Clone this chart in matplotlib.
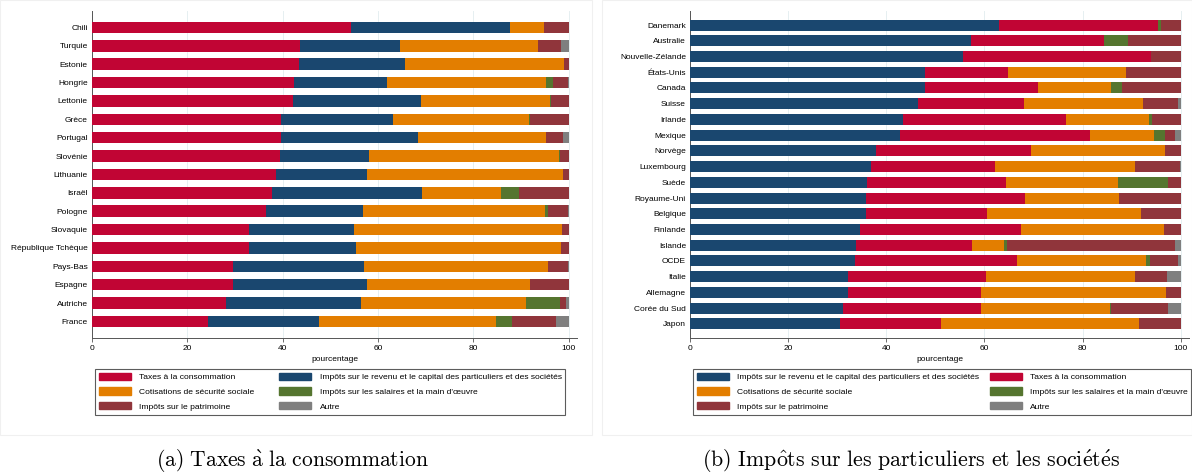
import numpy as np
import matplotlib
matplotlib.use("Agg")
import matplotlib.pyplot as plt
from matplotlib.patches import Patch, Rectangle

plt.rcParams['font.family'] = ['Liberation Sans', 'DejaVu Sans']
plt.rcParams['mathtext.fontset'] = 'cm'

# colours (Stata s2color-like)
c_conso = '#c10534'
c_revenu = '#1a476f'
c_cotis = '#e37e00'
c_salaires = '#55752f'
c_patri = '#90353b'
c_autre = '#7f7f7f'

lbl_conso = "Taxes à la consommation"
lbl_revenu = "Impôts sur le revenu et le capital des particuliers et des sociétés"
lbl_cotis = "Cotisations de sécurité sociale"
lbl_salaires = "Impôts sur les salaires et la main d'œuvre"
lbl_patri = "Impôts sur le patrimoine"
lbl_autre = "Autre"

# --- panel (a): sorted by consumption taxes
pays_a = ["Chili", "Turquie", "Estonie", "Hongrie", "Lettonie", "Grèce", "Portugal",
          "Slovénie", "Lithuanie", "Israël", "Pologne", "Slovaquie", "République Tchèque",
          "Pays-Bas", "Espagne", "Autriche", "France"]
conso_a = [54.4, 43.6, 43.4, 42.4, 42.1, 39.7, 39.7, 39.4, 38.7, 37.7, 36.5, 33.0, 33.0, 29.6, 29.6, 28.2, 24.3]
revenu_a = [33.3, 21.1, 22.3, 19.5, 26.9, 23.4, 28.8, 18.8, 18.9, 31.5, 20.3, 21.9, 22.4, 27.5, 28.1, 28.2, 23.4]
cotis_a = [7.2, 28.9, 33.4, 33.4, 27.1, 28.5, 26.8, 39.8, 41.2, 16.7, 38.2, 43.7, 43.0, 38.6, 34.3, 34.7, 37.0]
salaires_a = [0.0, 0.0, 0.0, 1.4, 0.2, 0.2, 0.0, 0.2, 0.0, 3.7, 0.7, 0.0, 0.0, 0.0, 0.0, 7.0, 3.4]
patri_a = [5.1, 4.9, 0.9, 3.1, 3.7, 8.2, 3.5, 1.8, 1.2, 10.4, 4.1, 1.4, 1.6, 4.1, 8.0, 1.3, 9.2]
autre_a = [0.0, 1.5, 0.0, 0.2, 0.0, 0.0, 1.2, 0.0, 0.0, 0.0, 0.2, 0.0, 0.0, 0.2, 0.0, 0.6, 2.7]

# --- panel (b): sorted by income taxes
pays_b = ["Danemark", "Australie", "Nouvelle-Zélande", "États-Unis", "Canada", "Suisse",
          "Irlande", "Mexique", "Norvège", "Luxembourg", "Suède", "Royaume-Uni", "Belgique",
          "Finlande", "Islande", "OCDE", "Italie", "Allemagne", "Corée du Sud", "Japon"]
revenu_b = [63.0, 57.3, 55.6, 47.9, 47.8, 46.5, 43.5, 42.7, 38.0, 36.8, 36.0, 35.9, 35.8, 34.7, 33.9, 33.7, 32.1, 32.1, 31.1, 30.5]
conso_b = [32.4, 27.0, 38.3, 17.0, 23.1, 21.5, 33.1, 38.9, 31.4, 25.3, 28.3, 32.4, 24.8, 32.8, 23.5, 32.9, 28.2, 27.2, 28.3, 20.6]
cotis_b = [0.0, 0.0, 0.0, 24.0, 14.9, 24.3, 16.9, 12.9, 27.5, 28.5, 22.9, 19.1, 31.3, 29.2, 6.6, 26.3, 30.4, 37.7, 26.1, 40.4]
salaires_b = [0.6, 5.0, 0.0, 0.0, 2.2, 0.0, 0.6, 2.3, 0.0, 0.0, 10.3, 0.0, 0.0, 0.0, 0.6, 0.9, 0.0, 0.0, 0.3, 0.0]
patri_b = [4.0, 10.7, 6.1, 11.1, 12.0, 7.2, 5.9, 2.0, 3.1, 9.2, 2.5, 12.6, 8.1, 3.3, 34.3, 5.7, 6.5, 3.0, 11.7, 8.5]
autre_b = [0.0, 0.0, 0.0, 0.0, 0.0, 0.5, 0.0, 1.2, 0.0, 0.2, 0.0, 0.0, 0.0, 0.0, 1.1, 0.5, 2.8, 0.0, 2.5, 0.0]

fs = 6.0


def stacked(ax, pays, series, height):
    y = np.arange(len(pays))
    left = np.zeros(len(pays))
    for vals, col in series:
        vals = np.array(vals)
        ax.barh(y, vals, left=left, height=height, color=col, edgecolor='none', zorder=3)
        left += vals
    ax.set_yticks(y)
    ax.set_yticklabels(pays, fontsize=fs)
    ax.set_ylim(len(pays) - 1 + 0.9, -0.9)
    ax.set_xlim(0, 101.8)
    ax.set_xticks([0, 20, 40, 60, 80, 100])
    ax.tick_params(axis='x', labelsize=fs, length=3, width=0.6, color='#555555', pad=2)
    ax.tick_params(axis='y', length=0, pad=3)
    ax.grid(axis='x', color='#e6eff1', linewidth=0.7, zorder=0)
    for s in ['top', 'right']:
        ax.spines[s].set_visible(False)
    for s in ['left', 'bottom']:
        ax.spines[s].set_color('#555555')
        ax.spines[s].set_linewidth(0.7)
    ax.set_xlabel("pourcentage", fontsize=fs, labelpad=3)


fig = plt.figure(figsize=(11.92, 4.76), dpi=100)

# faint panel frames
fig.patches.append(Rectangle((0.0, 0.086), 0.497, 0.914, transform=fig.transFigure,
                             fill=False, edgecolor='#f0f0f0', linewidth=0.8))
fig.patches.append(Rectangle((0.505, 0.086), 0.495, 0.914, transform=fig.transFigure,
                             fill=False, edgecolor='#f0f0f0', linewidth=0.8))

ax1 = fig.add_axes([0.0772, 0.29, 0.407, 0.687])
stacked(ax1, pays_a, [(conso_a, c_conso), (revenu_a, c_revenu), (cotis_a, c_cotis),
                      (salaires_a, c_salaires), (patri_a, c_patri), (autre_a, c_autre)], 0.63)

ax2 = fig.add_axes([0.5789, 0.29, 0.419, 0.687])
stacked(ax2, pays_b, [(revenu_b, c_revenu), (conso_b, c_conso), (cotis_b, c_cotis),
                      (salaires_b, c_salaires), (patri_b, c_patri), (autre_b, c_autre)], 0.7)

leg_fs = 6.1
leg_kw = dict(ncol=2, fontsize=leg_fs, frameon=True, fancybox=False, handlelength=3.8,
              handleheight=0.95, labelspacing=0.72, borderpad=0.45, borderaxespad=0,
              handletextpad=0.95)

h_a = [Patch(color=c_conso, label=lbl_conso), Patch(color=c_cotis, label=lbl_cotis),
       Patch(color=c_patri, label=lbl_patri), Patch(color=c_revenu, label=lbl_revenu),
       Patch(color=c_salaires, label=lbl_salaires), Patch(color=c_autre, label=lbl_autre)]
leg1 = fig.legend(handles=h_a, loc='upper left', bbox_to_anchor=(95 / 1192, 1 - 369 / 476),
                  columnspacing=2.95, **leg_kw)

h_b = [Patch(color=c_revenu, label=lbl_revenu), Patch(color=c_cotis, label=lbl_cotis),
       Patch(color=c_patri, label=lbl_patri), Patch(color=c_conso, label=lbl_conso),
       Patch(color=c_salaires, label=lbl_salaires), Patch(color=c_autre, label=lbl_autre)]
leg2 = fig.legend(handles=h_b, loc='upper left', bbox_to_anchor=(693 / 1192, 1 - 369 / 476),
                  columnspacing=1.25, **leg_kw)
for lg in (leg1, leg2):
    lg.get_frame().set_edgecolor('#333333')
    lg.get_frame().set_linewidth(0.8)

fig.text(0.245, 0.004, r"$\mathrm{(a)\ Taxes\ \grave{a}\ la\ consommation}$", ha='center',
         va='bottom', fontsize=15.5)
fig.text(0.764, 0.004,
         r"$\mathrm{(b)\ Imp\hat{o}ts\ sur\ les\ particuliers\ et\ les\ soci\acute{e}t\acute{e}s}$",
         ha='center', va='bottom', fontsize=15.8)

fig.savefig("out.png", dpi=100)
